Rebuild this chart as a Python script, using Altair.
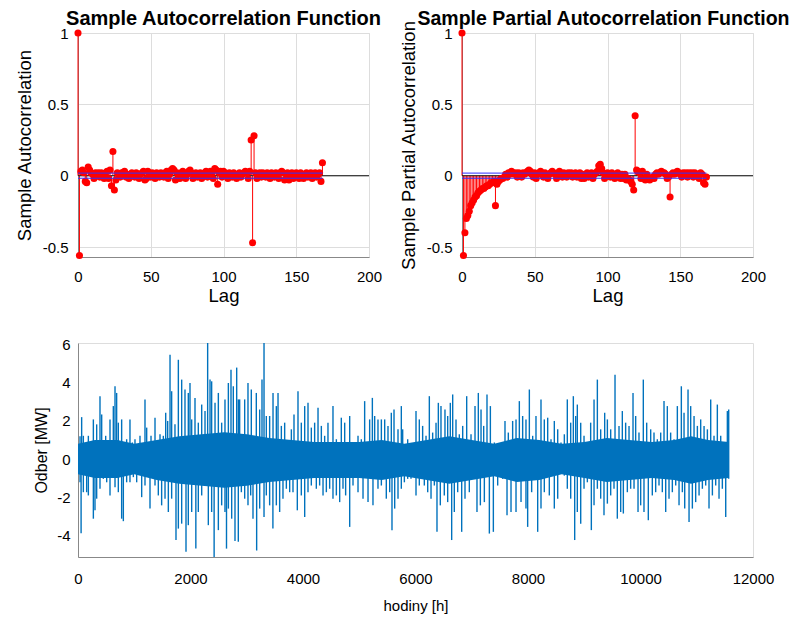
import altair as alt
import pandas as pd

FONT = "Liberation Sans"
TXT = "#333333"

# ---------------- ACF / PACF values (lags 0..168) ----------------
lags = list(range(169))
acf_vals = [1.0, -0.56, 0.03, 0.04, 0.02, -0.04, -0.05, 0.06, 0.04, 0.02,
            0.01, -0.02, 0.02, 0.01, 0.02, -0.01, 0.02, 0.01, -0.02, 0.02,
            0.03, -0.02, 0.04, -0.07, 0.17, -0.10, -0.03, 0.02, 0.01, -0.01,
            0.02, 0.02, 0.03, -0.01, 0.01, -0.02, 0.01, 0.02, 0.01, -0.01,
            0.02, 0.01, -0.02, 0.01, 0.02, 0.03, -0.03, -0.02, 0.03, 0.01,
            -0.01, 0.02, 0.01, -0.02, 0.02, 0.01, -0.01, 0.02, 0.01, -0.01,
            0.02, 0.03, -0.02, 0.01, 0.04, 0.05, 0.04, -0.03, 0.02, 0.01,
            -0.02, 0.02, 0.03, 0.01, -0.02, 0.01, 0.03, 0.04, 0.02, -0.02,
            0.01, 0.02, -0.01, 0.01, 0.02, -0.02, 0.01, 0.02, 0.03, -0.01,
            0.02, 0.03, 0.02, -0.02, 0.05, 0.04, -0.06, 0.02, 0.03, -0.01,
            0.03, 0.02, 0.01, -0.02, 0.02, 0.01, -0.01, 0.02, 0.01, -0.02,
            0.01, 0.02, -0.01, 0.01, 0.02, 0.03, 0.02, -0.02, 0.03, 0.25,
            -0.47, 0.28, 0.02, -0.02, 0.01, 0.02, -0.01, 0.02, 0.01, -0.01,
            0.02, 0.01, -0.02, 0.02, 0.01, -0.01, 0.02, 0.01, -0.02, 0.02,
            0.03, 0.02, -0.03, 0.01, 0.02, -0.03, 0.01, 0.02, -0.02, 0.01,
            0.02, 0.01, -0.02, 0.02, 0.01, -0.02, 0.01, 0.02, -0.01, 0.01,
            0.02, -0.02, 0.01, 0.02, -0.01, 0.01, 0.02, -0.04, 0.09]
pacf_vals = [1.0, -0.56, -0.40, -0.30, -0.28, -0.25, -0.21, -0.19, -0.17, -0.15,
             -0.14, -0.12, -0.11, -0.10, -0.09, -0.09, -0.08, -0.07, -0.07, -0.06,
             -0.05, -0.05, -0.04, -0.21, -0.06, -0.04, -0.03, -0.02, -0.02, -0.01,
             0.01, -0.01, 0.02, 0.01, 0.03, 0.02, 0.01, 0.02, -0.01, 0.02,
             0.01, -0.01, 0.02, 0.01, 0.02, 0.03, 0.04, 0.03, 0.01, -0.01,
             0.02, -0.02, 0.01, 0.02, 0.03, 0.01, -0.01, 0.02, 0.01, -0.02,
             0.01, 0.02, 0.03, 0.02, 0.01, -0.02, 0.02, 0.03, 0.01, -0.01,
             0.02, 0.01, -0.01, 0.02, 0.01, 0.02, -0.01, 0.01, 0.02, -0.01,
             0.01, 0.02, -0.02, 0.01, -0.02, 0.01, 0.02, -0.01, 0.01, 0.02,
             -0.02, 0.01, 0.02, 0.03, 0.07, 0.08, 0.05, 0.02, -0.02, 0.01,
             0.02, 0.01, -0.01, 0.02, 0.01, -0.02, 0.01, 0.02, -0.01, -0.02,
             0.01, -0.02, 0.01, -0.03, -0.02, -0.03, -0.04, -0.06, -0.10, 0.42,
             0.04, 0.03, 0.02, -0.02, 0.03, -0.02, -0.03, 0.01, -0.02, -0.03,
             -0.02, -0.01, -0.02, 0.01, 0.02, 0.01, 0.02, 0.03, 0.02, 0.02,
             0.01, -0.02, -0.01, -0.15, 0.01, 0.02, 0.01, 0.02, 0.03, 0.02,
             0.01, -0.01, 0.02, 0.01, 0.02, -0.01, 0.02, 0.01, 0.02, -0.01,
             0.02, 0.01, 0.01, -0.02, 0.02, 0.01, -0.05, -0.06, -0.01]
conf_bound = 0.018
bound_end_lag = 168

# ---------------- time series (hourly), spikes ----------------
up_t = [36, 65, 95, 184, 273, 332, 391, 421, 492, 569, 628, 658, 687, 717, 776, 865, 924, 966,
        1013, 1102, 1191, 1221, 1298, 1369, 1458, 1517, 1559, 1594, 1636, 1665, 1724, 1784, 1843,
        1902, 1961, 1991, 2021, 2080, 2139, 2199, 2258, 2305, 2347, 2376, 2436, 2495, 2554, 2613,
        2673, 2720, 2761, 2821, 2850, 2874, 2963, 3022, 3081, 3170, 3230, 3271, 3307, 3348, 3407,
        3467, 3526, 3556, 3615, 3674, 3733, 3793, 3840, 3911, 3970, 4030, 4089, 4148, 4207, 4267,
        4326, 4385, 4444, 4533, 4593, 4681, 4741, 4830, 4889, 4978, 5037, 5096, 5185, 5233, 5274,
        5333, 5393, 5452, 5511, 5570, 5618, 5689, 5748, 5772, 5861, 5920, 6009, 6068, 6127, 6187,
        6246, 6305, 6365, 6406, 6453, 6524, 6572, 6619, 6661, 6720, 6779, 6839, 6910, 6987, 7058,
        7117, 7165, 7212, 7271, 7331, 7402, 7461, 7520, 7591, 7650, 7727, 7787, 7846, 7905, 7964,
        8024, 8083, 8142, 8231, 8290, 8350, 8409, 8468, 8528, 8587, 8646, 8699, 8759, 8806, 8848,
        8877, 8937, 8996, 9055, 9114, 9174, 9233, 9292, 9363, 9411, 9470, 9547, 9618, 9677, 9736,
        9796, 9867, 9914, 9973, 10050, 10110, 10181, 10240, 10299, 10359, 10418, 10477, 10536,
        10596, 10655, 10726, 10774, 10845, 10892, 10952, 11011, 11070, 11130, 11189, 11248, 11307,
        11366, 11426, 11485, 11544, 11568]
up_v = [1.2, 2.2, 1.22, 1.22, 2.08, 1.82, 3.30, 2.34, 1.22, 2.08, 2.78, 3.82, 3.47, 1.91, 2.08, 1.04,
        2.08, 0.87, 1.04, 1.22, 3.13, 1.65, 1.22, 2.17, 1.30, 1.22, 2.43, 2.00, 5.47, 3.56, 1.82,
        5.21, 4.17, 3.65, 3.47, 3.99, 2.08, 3.21, 1.91, 2.86, 2.52, 6.2, 4.17, 4.08, 2.95, 3.47,
        1.91, 3.13, 3.99, 4.69, 3.82, 4.8, 3.13, 3.13, 3.13, 3.99, 3.65, 3.47, 2.60, 4.17, 6.2,
        2.26, 2.26, 3.47, 2.78, 3.47, 1.74, 1.91, 0.87, 1.56, 2.34, 3.56, 1.91, 2.78, 2.95, 1.65,
        1.91, 2.69, 1.74, 1.22, 1.91, 2.78, 1.04, 2.17, 1.91, 2.26, 0.69, 1.22, 1.04, 3.04, 2.08,
        3.21, 2.26, 2.08, 2.08, 2.08, 1.74, 2.43, 2.60, 1.56, 2.78, 1.56, 1.04, 0.69, 2.52, 2.08,
        1.74, 1.22, 3.30, 1.39, 1.91, 2.95, 2.78, 2.60, 2.26, 2.95, 3.39, 2.08, 1.30, 1.74, 3.30,
        1.30, 2.78, 3.47, 2.60, 1.74, 3.39, 2.78, 0.87, 0.69, 0.69, 2.00, 1.39, 2.00, 2.08, 3.04,
        2.26, 2.08, 3.65, 1.22, 2.26, 3.13, 2.08, 2.17, 1.04, 2.00, 1.56, 0.87, 1.30, 3.13, 1.91,
        3.30, 2.26, 2.86, 1.91, 1.22, 0.87, 1.91, 3.13, 4.17, 1.56, 2.43, 2.08, 1.56, 4.43, 1.74,
        2.52, 1.91, 1.74, 3.47, 2.26, 1.39, 4.17, 1.91, 1.56, 1.39, 1.04, 1.39, 3.04, 2.78, 1.39,
        1.04, 2.78, 3.82, 2.43, 3.65, 2.78, 2.26, 1.74, 2.08, 1.74, 1.56, 3.13, 1.22, 2.86, 1.22,
        0.69, 2.52, 2.60]
lo_t = [36, 55, 95, 154, 184, 273, 302, 332, 391, 450, 510, 569, 658, 717, 776, 806, 865, 924, 984,
        1043, 1132, 1191, 1280, 1369, 1428, 1487, 1547, 1606, 1665, 1742, 1784, 1843, 1920, 1961,
        2021, 2095, 2139, 2199, 2317, 2376, 2420, 2495, 2554, 2613, 2640, 2673, 2732, 2791, 2850,
        2904, 2963, 3022, 3070, 3111, 3176, 3230, 3307, 3348, 3407, 3465, 3526, 3585, 3644, 3704,
        3763, 3822, 3899, 3970, 4030, 4089, 4148, 4237, 4296, 4356, 4415, 4474, 4533, 4593, 4652,
        4711, 4758, 4830, 4889, 4978, 5067, 5156, 5244, 5333, 5393, 5481, 5541, 5582, 5630, 5689,
        5748, 5802, 5861, 5920, 6009, 6068, 6157, 6217, 6276, 6335, 6382, 6441, 6512, 6572, 6643,
        6690, 6750, 6821, 6880, 6957, 7016, 7093, 7153, 7224, 7313, 7384, 7461, 7550, 7627, 7698,
        7787, 7876, 7964, 7994, 8065, 8172, 8231, 8290, 8379, 8468, 8528, 8587, 8646, 8699, 8759,
        8830, 8877, 8937, 8996, 9055, 9126, 9174, 9233, 9292, 9351, 9411, 9470, 9529, 9588, 9648,
        9695, 9766, 9825, 9885, 9956, 10003, 10062, 10139, 10210, 10270, 10329, 10388, 10448,
        10507, 10566, 10626, 10685, 10744, 10786, 10863, 10922, 10981, 11041, 11100, 11159, 11218,
        11278, 11337, 11396, 11455, 11515, 11568]
lo_v = [-1.22, -3.9, -1.74, -1.74, -1.91, -3.13, -2.69, -2.08, -1.56, -1.04, -1.22, -1.91, -1.48,
        -1.74, -3.13, -3.26, -1.22, -1.22, -0.95, -1.22, -2.00, -1.39, -2.60, -1.39, -1.91, -2.43,
        -2.08, -2.78, -2.08, -4.25, -3.65, -3.39, -4.86, -3.47, -2.78, -4.69, -2.78, -1.91, -3.47,
        -2.78, -5.2, -3.73, -2.43, -2.78, -4.7, -2.60, -3.13, -4.3, -4.34, -1.74, -2.08, -2.43,
        -1.91, -3.13, -4.8, -2.60, -3.04, -1.91, -2.43, -3.65, -2.43, -2.78, -2.08, -1.56, -1.74,
        -1.74, -2.69, -1.91, -3.04, -1.74, -1.39, -1.56, -1.39, -1.91, -1.74, -1.56, -2.08, -1.91,
        -2.26, -1.56, -1.91, -3.56, -1.39, -1.74, -2.08, -2.26, -2.43, -1.56, -1.39, -2.08, -1.74,
        -3.73, -2.60, -2.08, -1.56, -1.22, -1.04, -1.04, -1.91, -1.39, -1.39, -1.74, -2.08, -1.39,
        -3.82, -2.43, -1.91, -2.26, -4.25, -2.78, -1.74, -3.82, -2.08, -1.74, -1.04, -2.78, -2.43,
        -2.26, -3.91, -3.82, -1.39, -1.04, -2.95, -2.78, -2.78, -2.26, -2.60, -3.56, -1.74, -3.82,
        -2.60, -1.74, -1.91, -2.60, -2.08, -0.69, -0.87, -1.56, -2.08, -4.25, -2.78, -3.39, -1.56,
        -1.22, -3.73, -2.43, -1.56, -2.08, -2.95, -2.34, -1.91, -1.56, -3.13, -2.78, -2.86, -1.74,
        -1.56, -1.56, -2.78, -2.43, -2.78, -3.21, -1.91, -1.74, -1.39, -1.74, -2.78, -2.08, -1.74,
        -1.39, -2.43, -1.74, -2.60, -3.30, -2.60, -2.26, -1.91, -1.56, -1.39, -2.60, -1.91, -1.39,
        -2.08, -1.56, -3.04, -1.04]
core_t = [0, 300, 700, 1000, 1400, 1800, 2200, 2600, 3000, 3400, 3800, 4200, 4600, 5000, 5400,
          5800, 6200, 6600, 7000, 7400, 7800, 8200, 8600, 9000, 9400, 9800, 10200, 10600, 10900,
          11200, 11570]
core_hi = [0.8, 1.0, 1.0, 0.8, 1.0, 1.2, 1.3, 1.4, 1.3, 1.1, 1.0, 0.9, 0.9, 0.9, 1.0, 0.8, 1.0,
           1.2, 1.0, 0.8, 1.1, 1.0, 0.8, 0.9, 1.1, 1.0, 0.9, 1.0, 1.2, 1.0, 0.9]
core_lo = [-0.8, -1.0, -1.0, -0.8, -1.1, -1.3, -1.4, -1.5, -1.4, -1.2, -1.1, -1.0, -1.0, -1.0,
           -1.1, -0.9, -1.1, -1.3, -1.1, -0.9, -1.2, -1.1, -0.8, -1.0, -1.2, -1.1, -1.0, -1.1,
           -1.3, -1.1, -1.0]

# ---------------- helpers ----------------
def stem_panel(vals, title, ytitle, title_offset, title_size, title_dx):
    df = pd.DataFrame({"lag": lags, "r": vals, "zero": [0.0] * len(lags)})
    x = alt.X("lag:Q", scale=alt.Scale(domain=[0, 200], nice=False),
              axis=alt.Axis(values=[0, 50, 100, 150, 200], title="Lag", grid=True,
                            labelExpr="datum.value", ticks=False, labelPadding=12,
                            labelFlush=False, titlePadding=2, labelFontSize=15,
                            titleFontSize=18.5, titleFontWeight="normal"))
    y = alt.Y("r:Q", scale=alt.Scale(domain=[-0.57, 1], nice=False),
              axis=alt.Axis(values=[-0.5, 0, 0.5, 1], title=ytitle, grid=True,
                            labelExpr="datum.value", ticks=False, labelPadding=10,
                            labelFlush=False, titlePadding=8, labelFontSize=15,
                            titleFontSize=18.5, titleFontWeight="normal"))
    base_df = pd.DataFrame({"a": [0], "b": [200], "y": [0.0]})
    baseline = alt.Chart(base_df).mark_rule(color="#1a1a1a", strokeWidth=1).encode(
        x=alt.X("a:Q"), x2="b:Q", y=alt.Y("y:Q"))
    stems = alt.Chart(df).mark_rule(color="#ff0000", strokeWidth=1).encode(x=x, y=y, y2="zero:Q")
    pts = alt.Chart(df).mark_point(filled=True, color="#ff0000", opacity=1, size=50).encode(x="lag:Q", y="r:Q")
    bdf = pd.DataFrame({"a": [0, 0], "b": [bound_end_lag, bound_end_lag], "y": [conf_bound, -conf_bound]})
    bounds = alt.Chart(bdf).mark_rule(color="#3030ff", strokeWidth=1).encode(
        x=alt.X("a:Q"), x2="b:Q", y=alt.Y("y:Q"))
    return alt.layer(stems, baseline, pts, bounds).properties(
        width=291, height=224,
        title=alt.TitleParams(title, font=FONT, fontSize=title_size, fontWeight="bold",
                              color="black", offset=title_offset, dx=title_dx))

acf = stem_panel(acf_vals, "Sample Autocorrelation Function", "Sample Autocorrelation", -3, 20, 0)
pacf = stem_panel(pacf_vals, "Sample Partial Autocorrelation Function",
                  "Sample Partial Autocorrelation", -9, 19.5, -4)

spikes = pd.DataFrame({"t": up_t + lo_t, "v": up_v + lo_v, "zero": [0.0] * (len(up_t) + len(lo_t))})
core = pd.DataFrame({"t": core_t, "hi": core_hi, "lo": core_lo})
BLUE = "#0072BD"
xs = alt.X("t:Q", scale=alt.Scale(domain=[0, 12000], nice=False),
           axis=alt.Axis(values=list(range(0, 12001, 2000)), title="hodiny [h]", grid=False,
                         labelExpr="datum.value", ticks=False, labelPadding=14, titlePadding=12,
                         labelFlush=False, labelFontSize=15, titleFontSize=15,
                         titleFontWeight="normal"))
ys = alt.Y("v:Q", scale=alt.Scale(domain=[-5.14, 6.09], nice=False),
           axis=alt.Axis(values=[-4, -2, 0, 2, 4, 6], title="Odber [MW]", grid=False,
                         labelExpr="datum.value", ticks=False, labelPadding=8, titlePadding=7,
                         labelFlush=False, labelFontSize=15, titleFontSize=16,
                         titleFontWeight="normal"))
core_area = alt.Chart(core).mark_area(color=BLUE, opacity=1).encode(
    x=alt.X("t:Q"), y=alt.Y("hi:Q"), y2="lo:Q")
spike_rules = alt.Chart(spikes).mark_rule(color=BLUE, strokeWidth=1.4, clip=True).encode(
    x=xs, y=ys, y2="zero:Q")
ts = alt.layer(spike_rules, core_area).properties(width=675, height=214)

top = alt.hconcat(acf, pacf, spacing=93, bounds="flush")
chart = alt.vconcat(top, ts, spacing=32).properties(
    padding={"left": 14, "top": 8, "right": 0, "bottom": 0}
).configure_view(stroke="#404040", strokeWidth=1).configure_axis(
    labelFont=FONT, titleFont=FONT, labelColor=TXT, titleColor=TXT,
    domainColor="#404040", gridColor="#e3e3e3"
).configure(background="white")

chart.save("out.html", embed_options={"renderer": "svg", "actions": False})
